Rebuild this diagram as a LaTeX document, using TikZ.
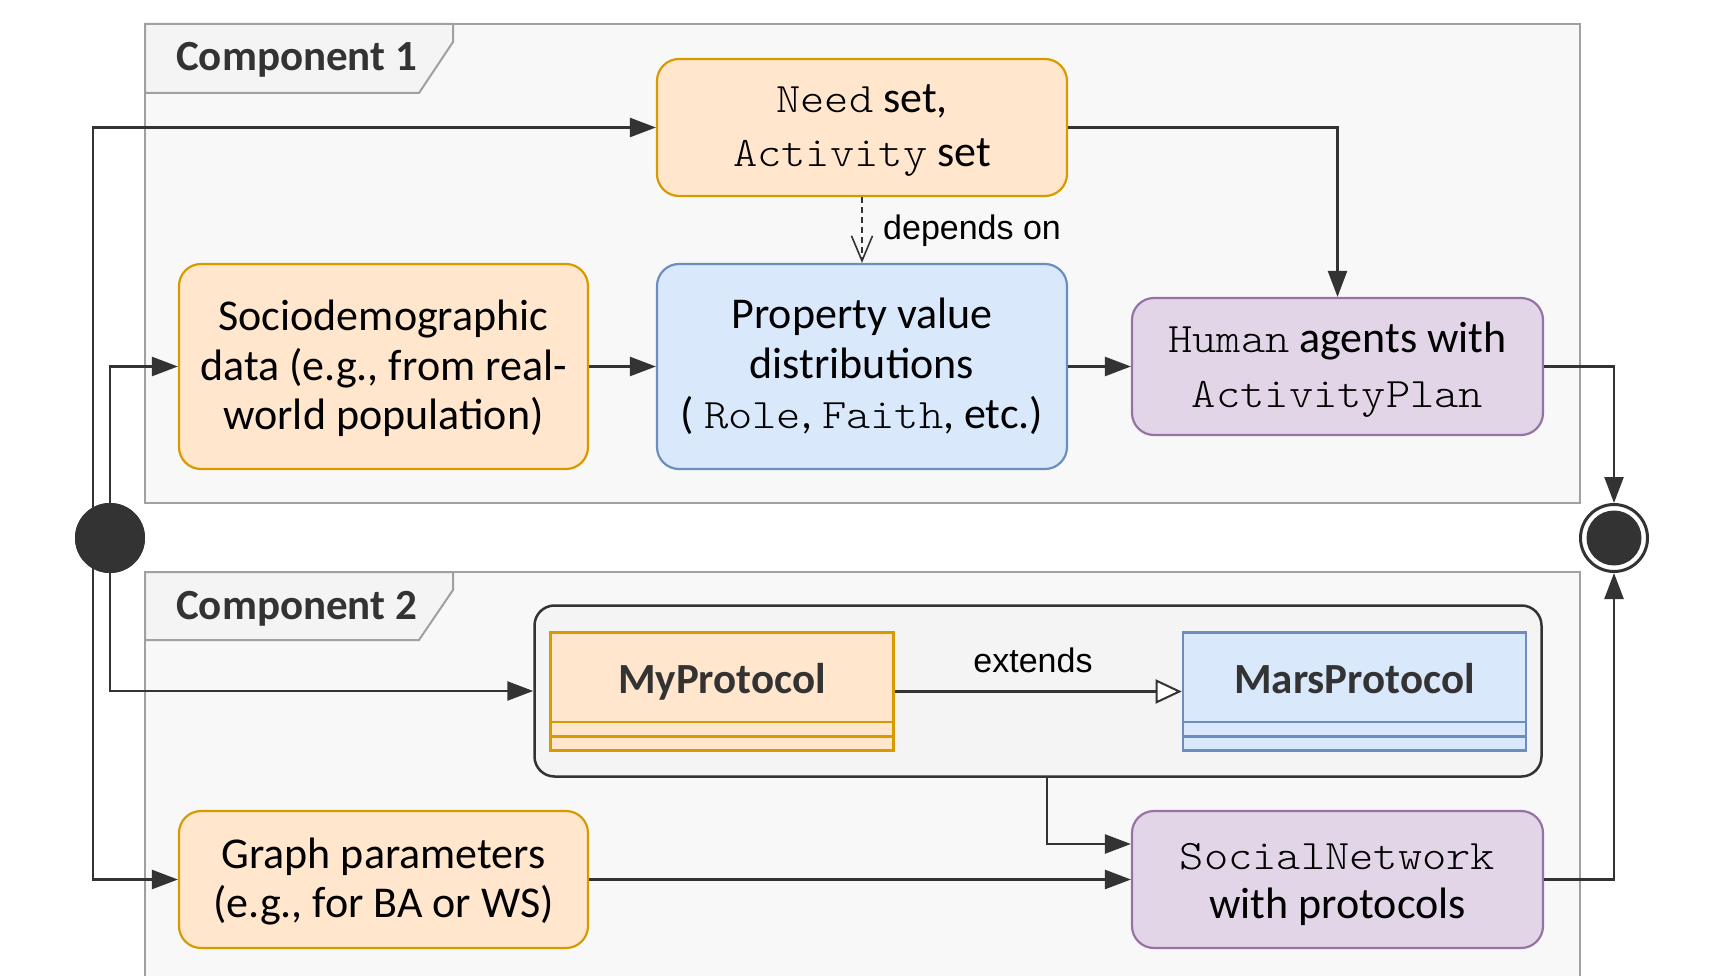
\documentclass[tikz,border=0pt]{standalone}
\usepackage{fontspec}
\setmainfont{Carlito}
\newfontfamily\codefont[FakeStretch=1.1]{Latin Modern Mono Light}
\newfontfamily\labelfont{Liberation Sans}
\usetikzlibrary{arrows.meta}

\definecolor{orfill}{HTML}{FFE6CC}
\definecolor{ordraw}{HTML}{D79B00}
\definecolor{blfill}{HTML}{DAE8FC}
\definecolor{bldraw}{HTML}{6C8EBF}
\definecolor{pufill}{HTML}{E1D5E7}
\definecolor{pudraw}{HTML}{9673A6}
\definecolor{ink}{HTML}{333333}
\definecolor{framefill}{HTML}{F8F8F8}
\definecolor{framedraw}{HTML}{A0A0A0}
\definecolor{tabfill}{HTML}{F4F4F4}
\definecolor{groupfill}{HTML}{F4F4F4}

\newcommand\cd[1]{{\codefont\fontsize{42}{55}\selectfont #1}}

\begin{document}
\begin{tikzpicture}[x=1pt,y=-1pt,
  box/.style={rounded corners=22pt, line width=2.2pt, inner sep=0pt},
  boxtext/.style={align=center, inner sep=0pt, font=\fontsize{44}{49.5}\selectfont},
  orangebox/.style={box, fill=orfill, draw=ordraw},
  bluebox/.style={box, fill=blfill, draw=bldraw},
  purplebox/.style={box, fill=pufill, draw=pudraw},
  classbox/.style={rectangle, line width=2.6pt, inner sep=0pt,
    minimum width=343pt, minimum height=118pt},
  classtitle/.style={font=\bfseries\fontsize{43}{50}\selectfont, text=ink, inner sep=0pt, anchor=base},
  flow/.style={draw=ink, line width=2.5pt, -{Triangle[length=26pt,width=19pt]}},
  frame/.style={fill=framefill, draw=framedraw, line width=2pt},
  tab/.style={fill=tabfill, draw=framedraw, line width=2pt},
  tabtext/.style={font=\bfseries\fontsize{43}{50}\selectfont, text=ink, anchor=base west, inner sep=0pt},
  edgelabel/.style={font=\labelfont\fontsize{34}{40}\selectfont, inner sep=0pt},
]
\useasboundingbox (0,0) rectangle (1724,976);

% component frames with their name tabs
\draw[frame] (145,24) rectangle (1580,503);
\draw[tab] (145,24) -- (453,24) -- (453,42) -- (419,93) -- (145,93) -- cycle;
\node[tabtext] (c1title) at (176,71) {Component 1};

\fill[framefill] (145,572) rectangle (1580,980);
\draw[framedraw, line width=2pt] (145,980) -- (145,572) -- (1580,572) -- (1580,980);
\draw[tab] (145,572) -- (453,572) -- (453,590) -- (419,640) -- (145,640) -- cycle;
\node[tabtext] (c2title) at (176,619) {Component 2};

% component 1
\node[orangebox, minimum width=410pt, minimum height=137pt] (need) at (862,127.5) {};
\node[boxtext, font=\fontsize{44}{54}\selectfont] (needtext) at ([yshift=-3pt]need.center)
  {\cd{Need} set,\\\cd{Activity} set};
\node[orangebox, minimum width=409pt, minimum height=205pt] (socio) at (383.5,366.5) {};
\node[boxtext] (sociotext) at ([yshift=-2pt]socio.center)
  {Sociodemographic\\data (e.g., from real-\\world population)};
\node[bluebox, minimum width=410pt, minimum height=205pt] (prop) at (862,366.5) {};
\node[boxtext, font=\fontsize{44}{50}\selectfont] (proptext) at (prop.center)
  {Property value\\distributions\\( \cd{Role}, \cd{Faith}, etc.)};
\node[purplebox, minimum width=411pt, minimum height=137pt] (human) at (1337.5,366.5) {};
\node[boxtext, font=\fontsize{44}{55}\selectfont] (humantext) at ([yshift=-3pt]human.center)
  {\cd{Human} agents with\\\cd{ActivityPlan}};

% component 2
\node[rectangle, rounded corners=20pt, fill=groupfill, draw=ink, line width=2.5pt,
  minimum width=1007pt, minimum height=171pt] (group) at (1038,691) {};
\node[classbox, fill=orfill, draw=ordraw] (my) at (722,691.5) {};
\draw[ordraw, line width=2.6pt] (my.west |- 0,722) -- (my.east |- 0,722);
\draw[ordraw, line width=2.6pt] (my.west |- 0,736.5) -- (my.east |- 0,736.5);
\node[classtitle] (mytitle) at (722,693) {MyProtocol};
\node[classbox, fill=blfill, draw=bldraw] (mars) at (1354.5,691.5) {};
\draw[bldraw, line width=2.6pt] (mars.west |- 0,722) -- (mars.east |- 0,722);
\draw[bldraw, line width=2.6pt] (mars.west |- 0,736.5) -- (mars.east |- 0,736.5);
\node[classtitle] (marstitle) at (1354.5,693) {MarsProtocol};

\node[orangebox, minimum width=409pt, minimum height=137pt] (graph) at (383.5,879.5) {};
\node[boxtext] (graphtext) at ([yshift=-2pt]graph.center)
  {Graph parameters\\(e.g., for BA or WS)};
\node[purplebox, minimum width=411pt, minimum height=137pt] (social) at (1337.5,879.5) {};
\node[boxtext, font=\fontsize{44}{49}\selectfont] (socialtext) at ([yshift=-4.5pt]social.center)
  {\cd{SocialNetwork}\\with protocols};

% initial and final nodes
\node[circle, fill=ink, minimum size=70pt, inner sep=0pt] (start) at (110,538) {};
\node[circle, fill=white, draw=ink, line width=3pt, minimum size=67pt, inner sep=0pt] (final) at (1614,538) {};
\node[circle, fill=ink, minimum size=55pt, inner sep=0pt] (finaldot) at (1614,538) {};

\coordinate (forkouter) at (93,538);

% control flow
\draw[flow] (forkouter) |- (need.west);
\draw[flow] (forkouter) |- (graph.west);
\draw[flow] (start.center) |- (socio.west);
\draw[flow] (start.center) |- (group.west);
\draw[flow] (socio) -- (prop);
\draw[flow] (prop) -- (human);
\draw[flow] (need.east) -| (human.north);
\draw[flow] (human.east) -| (final.north);
\draw[flow] (social.east) -| (final.south);
\draw[flow] (graph) -- (social);
\draw[flow] ([xshift=9pt]group.south) |- ([yshift=35.5pt]social.west);
\node[circle, fill=ink, minimum size=70pt, inner sep=0pt] (startdot) at (start) {};

% dependency and generalisation
\draw[draw=ink, line width=1.6pt, dash pattern=on 6pt off 4pt,
  -{Straight Barb[length=25pt,width=21pt,line width=1.6pt]}] (need.south) -- (prop.north);
\node[edgelabel, anchor=west] (dep) at (883,231) {depends on};
\draw[draw=ink, line width=2.5pt,
  -{Triangle[open,length=26pt,width=24pt,fill=white,line width=2pt]}] (my.east) -- (mars.west);
\node[edgelabel] (ext) at (1033,660) {extends};
\end{tikzpicture}
\end{document}
